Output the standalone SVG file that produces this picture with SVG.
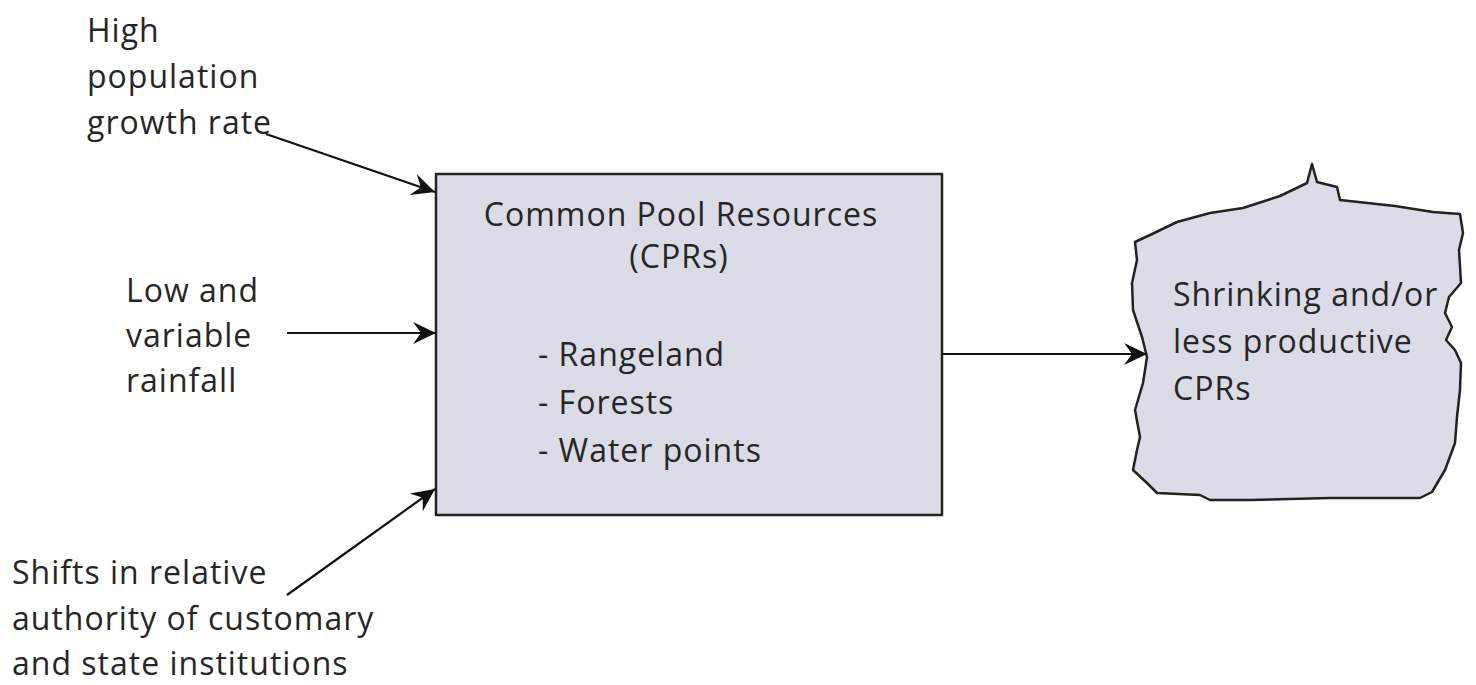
<svg xmlns="http://www.w3.org/2000/svg" width="1476" height="685" viewBox="0 0 1476 685">
  <style>
    text { font-family: "Open Sans", "Noto Sans", "DejaVu Sans", sans-serif; font-size: 32px; letter-spacing: 1px; fill: #262626; }
    .mid { text-anchor: middle; }
    .shape { fill: #dbdce8; stroke: #222; stroke-width: 2.5; stroke-linejoin: round; }
    .conn { stroke: #111; stroke-width: 2.2; fill: none; marker-end: url(#head); }
  </style>
  <defs>
    <marker id="head" viewBox="-24 -12 26 24" refX="0" refY="0" markerWidth="26" markerHeight="24" markerUnits="userSpaceOnUse" orient="auto">
      <path d="M0,0 L-23,-11 L-15,0 L-23,11 Z" fill="#111"/>
    </marker>
  </defs>

  <rect width="1476" height="685" fill="#ffffff"/>

  <!-- driver: population growth -->
  <g id="driver-population">
    <text x="87" y="42">High</text>
    <text x="87" y="88">population</text>
    <text x="87" y="134">growth rate</text>
  </g>

  <!-- driver: rainfall -->
  <g id="driver-rainfall">
    <text x="126" y="302">Low and</text>
    <text x="126" y="347">variable</text>
    <text x="126" y="392">rainfall</text>
  </g>

  <!-- driver: institutions -->
  <g id="driver-institutions">
    <text x="12" y="584">Shifts in relative</text>
    <text x="12" y="630">authority of customary</text>
    <text x="12" y="675">and state institutions</text>
  </g>

  <!-- central box: common pool resources -->
  <g id="cpr-box">
    <rect class="shape" x="436" y="174" width="506" height="341"/>
    <text class="mid" x="681" y="226">Common Pool Resources</text>
    <text class="mid" x="679" y="268">(CPRs)</text>
    <text x="538" y="366">- Rangeland</text>
    <text x="538" y="414">- Forests</text>
    <text x="538" y="462">- Water points</text>
  </g>

  <!-- outcome: ragged shape -->
  <g id="outcome">
    <path class="shape" d="M1135,242 L1150,235 L1177,222 L1210,213 L1243,208 L1280,196 L1307,183 L1312,164 L1317,182 L1337,187 L1340,200 L1395,206 L1433,212 L1460,214 L1463,233 L1459,250 L1461,283 L1449,297 L1445,313 L1452,327 L1446,340 L1455,350 L1461,363 L1460,390 L1457,417 L1455,443 L1445,470 L1432,492 L1420,498 L1330,498 L1250,500 L1210,500 L1200,495 L1157,493 L1147,483 L1133,470 L1137,450 L1140,437 L1135,410 L1143,383 L1147,357 L1142,337 L1133,310 L1132,283 L1137,260 Z"/>
    <text x="1173" y="306">Shrinking and/or</text>
    <text x="1173" y="353">less productive</text>
    <text x="1173" y="400">CPRs</text>
  </g>

  <!-- connectors -->
  <g id="connectors">
    <line class="conn" x1="266" y1="134" x2="435" y2="192"/>
    <line class="conn" x1="287" y1="333" x2="436" y2="333"/>
    <line class="conn" x1="287" y1="595" x2="435" y2="489"/>
    <line class="conn" x1="942" y1="354" x2="1147" y2="354"/>
  </g>
</svg>
